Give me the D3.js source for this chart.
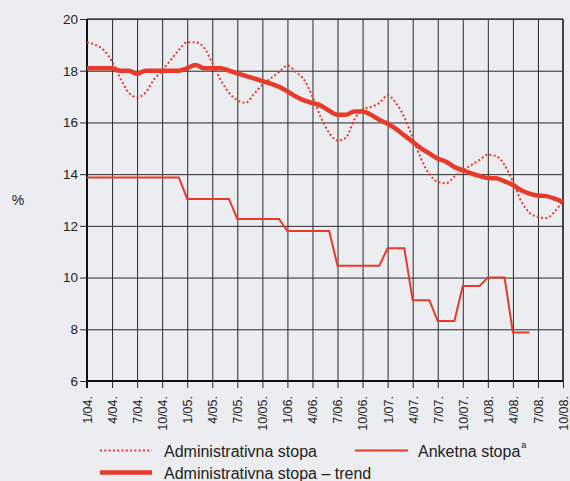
<!DOCTYPE html>
<html>
<head>
<meta charset="utf-8">
<script src="https://cdn.jsdelivr.net/npm/d3@7"></script>
<style>
  body { margin: 0; background: #ecedf0; }
  svg { display: block; font-family: "Liberation Sans", Arial, sans-serif; }
</style>
</head>
<body>
<div id="chart"></div>
<script>
// tick labels, one every quarter (month index 0 = 1/04.)
var quarterLabels = ["1/04.", "4/04.", "7/04.", "10/04.", "1/05.", "4/05.", "7/05.", "10/05.",
  "1/06.", "4/06.", "7/06.", "10/06.", "1/07.", "4/07.", "7/07.", "10/07.",
  "1/08.", "4/08.", "7/08.", "10/08."];
var yTicks = [6, 8, 10, 12, 14, 16, 18, 20];

// monthly values, %
var adminRate = [19.1, 19.0, 18.8, 18.35, 17.7, 17.15, 16.97, 17.15, 17.65, 18.0, 18.4, 18.8,
  19.1, 19.1, 18.9, 18.3, 17.65, 17.15, 16.86, 16.76, 17.1, 17.45, 17.7, 17.95,
  18.2, 17.95, 17.65, 17.0, 16.2, 15.6, 15.3, 15.4, 16.1, 16.5, 16.6, 16.75,
  17.05, 16.75, 16.2, 15.4, 14.6, 14.0, 13.7, 13.65, 13.9, 14.15, 14.35, 14.55,
  14.75, 14.7, 14.35, 13.7, 12.95, 12.5, 12.35, 12.3, 12.55, 12.97];
var adminTrend = [18.1, 18.1, 18.1, 18.1, 18.0, 18.0, 17.88, 18.0, 18.0, 18.0, 18.0, 18.0,
  18.1, 18.22, 18.1, 18.1, 18.1, 18.0, 17.9, 17.8, 17.7, 17.6, 17.5, 17.38,
  17.2, 17.0, 16.85, 16.75, 16.65, 16.45, 16.3, 16.3, 16.42, 16.42, 16.3, 16.1,
  15.95, 15.75, 15.5, 15.25, 15.0, 14.8, 14.6, 14.48, 14.28, 14.15, 14.03, 13.93,
  13.85, 13.84, 13.72, 13.58, 13.38, 13.25, 13.17, 13.15, 13.05, 12.92];
var surveyRate = [13.87, 13.87, 13.87, 13.87, 13.87, 13.87, 13.87, 13.87, 13.87, 13.87, 13.87, 13.87,
  13.04, 13.04, 13.04, 13.04, 13.04, 13.04, 12.27, 12.27, 12.27, 12.27, 12.27, 12.27,
  11.8, 11.8, 11.8, 11.8, 11.8, 11.8, 10.46, 10.46, 10.46, 10.46, 10.46, 10.46,
  11.13, 11.13, 11.13, 9.12, 9.12, 9.12, 8.32, 8.32, 8.32, 9.67, 9.67, 9.67,
  10.0, 10.0, 10.0, 7.88, 7.88, 7.88];

var red = "#e63a2b";

var margin = {top: 19, right: 7, bottom: 100, left: 87},
    width = 570 - margin.left - margin.right,
    height = 481 - margin.top - margin.bottom;

var svg = d3.select("#chart")
  .append("svg")
    .attr("width", 570)
    .attr("height", 481)
  .append("g")
    .attr("transform", "translate(" + margin.left + "," + margin.top + ")");

var x = d3.scaleLinear()
  .domain([0, 57])
  .range([0, width]);

var y = d3.scaleLinear()
  .domain([6, 20])
  .range([height, 0]);

// horizontal grid + y labels
svg.append("g")
  .attr("class", "y axis")
  .call(d3.axisLeft(y).tickValues(yTicks).tickSize(-width).tickPadding(9)
    .tickSizeOuter(0))
  .call(function(g) {
    g.select(".domain").remove();
    g.selectAll("line").attr("stroke", "#2a2a2a").attr("x1", -7);
    g.selectAll("text").style("font-size", "13.5px").style("fill", "#222");
  });

// vertical grid + x labels
svg.append("g")
  .attr("class", "x axis")
  .attr("transform", "translate(0," + height + ")")
  .call(d3.axisBottom(x).tickValues(d3.range(0, 58, 3))
    .tickFormat(function(d, i) { return quarterLabels[i]; })
    .tickSize(-height).tickSizeOuter(0))
  .call(function(g) {
    g.select(".domain").remove();
    g.selectAll("line").attr("stroke", "#2a2a2a").attr("y1", 7);
    g.selectAll("text")
      .style("font-size", "12.5px")
      .style("fill", "#222")
      .style("text-anchor", "end")
      .attr("transform", "rotate(-90)")
      .attr("x", -15)
      .attr("y", 0)
      .attr("dy", "0.35em");
  });

// frame
svg.append("line").attr("x1", 0).attr("x2", width).attr("y1", 0).attr("y2", 0)
  .attr("stroke", "#444").attr("stroke-width", 1.5);
svg.append("line").attr("x1", width).attr("x2", width).attr("y1", 0).attr("y2", height)
  .attr("stroke", "#444").attr("stroke-width", 2);
svg.append("line").attr("x1", 0).attr("x2", 0).attr("y1", 0).attr("y2", height + 7)
  .attr("stroke", "#111").attr("stroke-width", 2);
svg.append("line").attr("x1", 0).attr("x2", width).attr("y1", height).attr("y2", height)
  .attr("stroke", "#111").attr("stroke-width", 2);

var line = d3.line()
  .x(function(d, i) { return x(i); })
  .y(function(d) { return y(d); });

var smooth = d3.line()
  .x(function(d, i) { return x(i); })
  .y(function(d) { return y(d); })
  .curve(d3.curveMonotoneX);

svg.append("path")
  .datum(surveyRate)
  .attr("fill", "none")
  .attr("stroke", red)
  .attr("stroke-width", 2)
  .attr("d", line);

svg.append("path")
  .datum(adminRate)
  .attr("fill", "none")
  .attr("stroke", red)
  .attr("stroke-width", 2)
  .attr("stroke-dasharray", "2,2.3")
  .attr("d", smooth);

svg.append("path")
  .datum(adminTrend)
  .attr("fill", "none")
  .attr("stroke", red)
  .attr("stroke-width", 4.5)
  .attr("stroke-linejoin", "round")
  .attr("d", smooth);

// % label
d3.select("svg").append("text")
  .attr("x", 18).attr("y", 205)
  .attr("text-anchor", "middle")
  .style("font-size", "14px").style("fill", "#222")
  .text("%");

// legend
var legend = d3.select("svg").append("g");
legend.append("line").attr("x1", 100).attr("x2", 152).attr("y1", 450.5).attr("y2", 450.5)
  .attr("stroke", red).attr("stroke-width", 2).attr("stroke-dasharray", "2,2.3");
legend.append("text").attr("x", 164).attr("y", 456.5)
  .style("font-size", "16px").style("fill", "#222").text("Administrativna stopa");
legend.append("line").attr("x1", 100).attr("x2", 152).attr("y1", 472.5).attr("y2", 472.5)
  .attr("stroke", red).attr("stroke-width", 4.5);
legend.append("text").attr("x", 164).attr("y", 478.5)
  .style("font-size", "16px").style("fill", "#222").text("Administrativna stopa \u2013 trend");
legend.append("line").attr("x1", 355).attr("x2", 408).attr("y1", 450.5).attr("y2", 450.5)
  .attr("stroke", red).attr("stroke-width", 2);
var t = legend.append("text").attr("x", 418).attr("y", 456.5)
  .style("font-size", "16px").style("fill", "#222");
t.append("tspan").text("Anketna stopa");
t.append("tspan").attr("dy", -9).attr("dx", 1).style("font-size", "9px").text("a");
</script>
</body>
</html>
